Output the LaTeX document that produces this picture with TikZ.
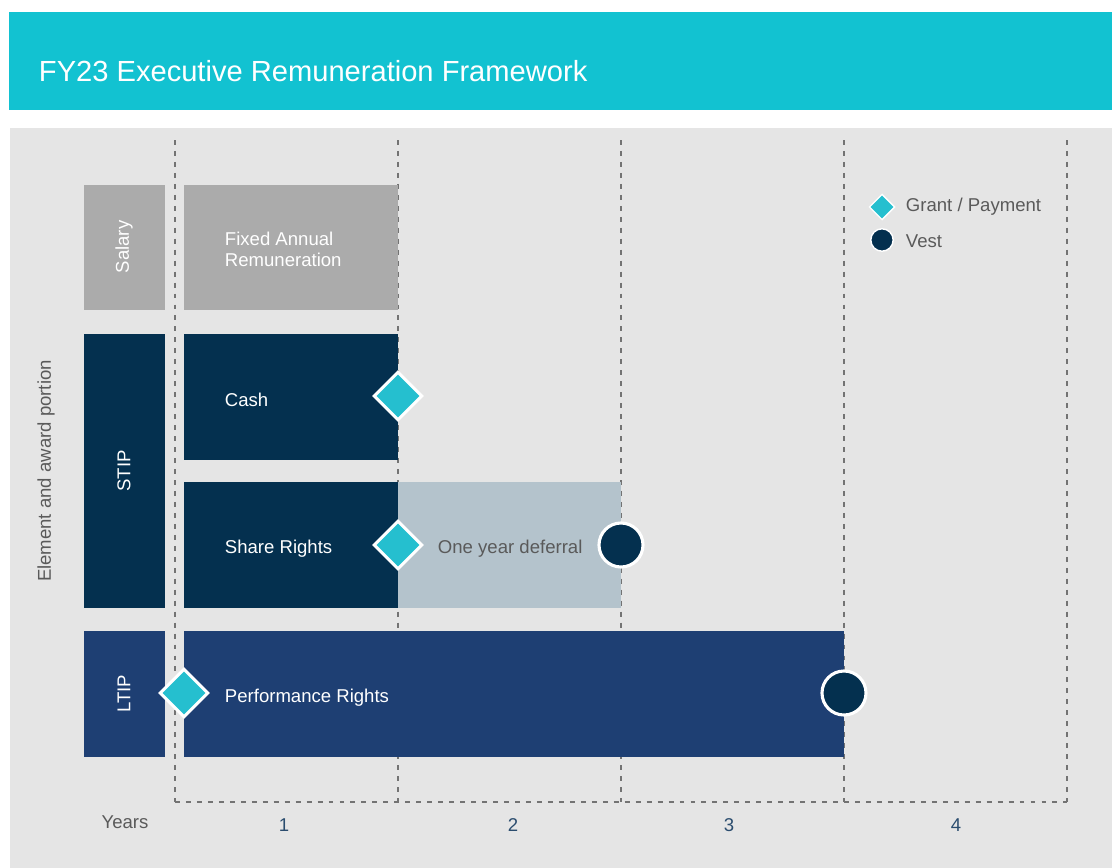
\documentclass[tikz,border=0pt]{standalone}
\usepackage{fontspec}
\setmainfont{Liberation Sans}
\usetikzlibrary{shapes.geometric}

\definecolor{headcol}{HTML}{12C2D1}
\definecolor{panelcol}{HTML}{E5E5E5}
\definecolor{salcol}{HTML}{ABABAB}
\definecolor{stipcol}{HTML}{04304F}
\definecolor{ltipcol}{HTML}{1E3F73}
\definecolor{defcol}{HTML}{B4C3CC}
\definecolor{grantcol}{HTML}{25BFCF}
\definecolor{gridcol}{HTML}{737373}
\definecolor{greytext}{HTML}{5A5A5A}
\definecolor{yearcol}{HTML}{2A4C6E}

\begin{document}
\begin{tikzpicture}[x=0.025cm,y=-0.025cm,
  every node/.style={font=\fontsize{13.2}{14.9}\selectfont},
  lbl/.style={text=white},
  grant/.style={diamond,fill=grantcol,draw=white,line width=2.2pt,minimum size=1.22cm,inner sep=0pt},
  vest/.style={circle,fill=stipcol,draw=white,line width=2.2pt,minimum size=1.1cm,inner sep=0pt},
  grid/.style={draw=gridcol,line width=0.75pt,dash pattern=on 3.5pt off 4.3pt}]

\fill[white] (0,0) rectangle (1112,868);
\fill[headcol] (9,12) rectangle (1112,110);
\node[anchor=west,text=white,font=\fontsize{20.7}{24}\selectfont] (title) at (34,71) {FY23 Executive Remuneration Framework};
\fill[panelcol] (10,128) rectangle (1112,868);

% year columns
\foreach \x in {175,398,621,844,1067}
  \draw[grid] (\x,140) -- (\x,802);
\draw[grid] (175,802) -- (1067,802);

% bars
\fill[salcol] (84,185) rectangle (165,310);
\fill[salcol] (184,185) rectangle (398,310);
\fill[stipcol] (84,334) rectangle (165,608);
\fill[stipcol] (184,334) rectangle (398,460);
\fill[stipcol] (184,482) rectangle (398,608);
\fill[defcol] (398,482) rectangle (621,608);
\fill[ltipcol] (84,631) rectangle (165,757);
\fill[ltipcol] (184,631) rectangle (844,757);

\node[lbl,rotate=90] (salary) at (124,247) {Salary};
\node[lbl,rotate=90] (stip) at (124,471) {STIP};
\node[lbl,rotate=90] (ltip) at (124,694) {LTIP};

\node[lbl,anchor=west,align=left] (fixed) at (220,249) {Fixed Annual\\Remuneration};
\node[lbl,anchor=west] (cash) at (220,400) {Cash};
\node[lbl,anchor=west] (share) at (220,549) {Share Rights};
\node[anchor=west,text=greytext] (defer) at (433,549) {One year deferral};
\node[lbl,anchor=west] (perf) at (220,698) {Performance Rights};

% grant and vest markers
\node[grant] (cashpay) at (398,396) {};
\node[grant] (sharegrant) at (398,545) {};
\node[grant] (perfgrant) at (184,693) {};
\node[vest] (sharevest) at (621,545) {};
\node[vest] (perfvest) at (844,693) {};

% key
\node[grant,minimum size=0.64cm,line width=1pt] (keygrant) at (882,207) {};
\node[anchor=west,text=greytext] (keygranttxt) at (901,207) {Grant / Payment};
\node[vest,minimum size=0.56cm,line width=1pt] (keyvest) at (882,240) {};
\node[anchor=west,text=greytext] (keyvesttxt) at (901,241) {Vest};

% axes
\node[rotate=90,text=greytext] (axis) at (46,471) {Element and award portion};
\node[text=greytext] (years) at (125,822) {Years};
\foreach \n/\x in {1/284,2/513,3/729,4/956}
  \node[text=yearcol] (yr\n) at (\x,825) {\n};
\end{tikzpicture}
\end{document}
